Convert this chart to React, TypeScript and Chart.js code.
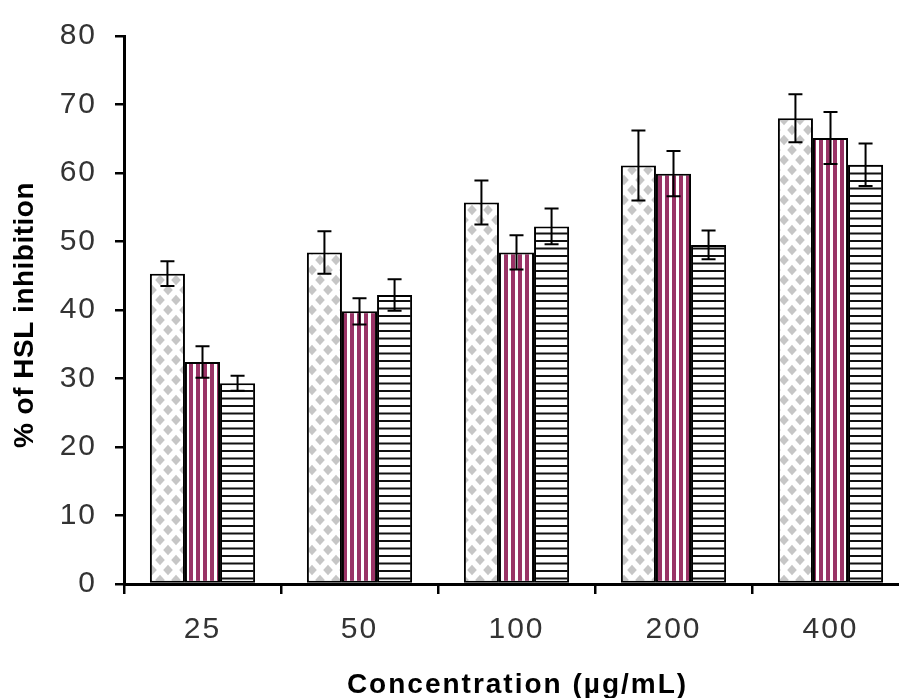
import { useEffect, useRef } from 'react';
import { Chart, registerables } from 'chart.js';

Chart.register(...registerables);

const categories = ['25', '50', '100', '200', '400'];
const seriesDiamond = [45.3, 48.4, 55.7, 61.1, 68.0];
const errDiamond = [1.8, 3.1, 3.2, 5.1, 3.5];
const seriesPurple = [32.4, 39.8, 48.4, 59.9, 65.1];
const errPurple = [2.3, 1.9, 2.5, 3.3, 3.8];
const seriesLines = [29.3, 42.2, 52.2, 49.5, 61.2];
const errLines = [1.1, 2.3, 2.6, 2.1, 3.1];
const yTicks = [0, 10, 20, 30, 40, 50, 60, 70, 80];

const xTitle = 'Concentration (µg/mL)';
const yTitle = '% of HSL inhibition';

const FONT = '"Liberation Sans", Arial, Helvetica, sans-serif';

function diamondPattern(ctx: CanvasRenderingContext2D): CanvasPattern {
  const w = 16;
  const h = 20;
  const c = document.createElement('canvas');
  c.width = w;
  c.height = h;
  const g = c.getContext('2d')!;
  g.fillStyle = '#ffffff';
  g.fillRect(0, 0, w, h);
  g.fillStyle = '#c6c6c6';
  const d = (cx: number, cy: number, rx: number, ry: number) => {
    g.beginPath();
    g.moveTo(cx, cy - ry);
    g.lineTo(cx + rx, cy);
    g.lineTo(cx, cy + ry);
    g.lineTo(cx - rx, cy);
    g.closePath();
    g.fill();
  };
  const rx = 4.8;
  const ry = 5.2;
  d(0, 0, rx, ry);
  d(w, 0, rx, ry);
  d(0, h, rx, ry);
  d(w, h, rx, ry);
  d(w / 2, h / 2, rx, ry);
  return ctx.createPattern(c, 'repeat')!;
}

function vStripePattern(ctx: CanvasRenderingContext2D): CanvasPattern {
  const w = 7;
  const c = document.createElement('canvas');
  c.width = w;
  c.height = 4;
  const g = c.getContext('2d')!;
  g.fillStyle = '#ffffff';
  g.fillRect(0, 0, w, 4);
  g.fillStyle = '#993366';
  g.fillRect(0, 0, 4, 4);
  return ctx.createPattern(c, 'repeat')!;
}

function hLinePattern(ctx: CanvasRenderingContext2D): CanvasPattern {
  const h = 15;
  const c = document.createElement('canvas');
  c.width = 4;
  c.height = h;
  const g = c.getContext('2d')!;
  g.fillStyle = '#ffffff';
  g.fillRect(0, 0, 4, h);
  g.fillStyle = '#111111';
  g.fillRect(0, 0, 4, 2);
  g.fillRect(0, 7.5, 4, 2);
  return ctx.createPattern(c, 'repeat')!;
}

const errorSets = [errDiamond, errPurple, errLines];

const errorBarsPlugin = {
  id: 'errorBars',
  afterDatasetsDraw(chart: any) {
    const ctx: CanvasRenderingContext2D = chart.ctx;
    const y = chart.scales.y;
    ctx.save();
    ctx.strokeStyle = '#000';
    ctx.lineWidth = 2;
    chart.data.datasets.forEach((ds: any, i: number) => {
      const meta = chart.getDatasetMeta(i);
      const errs = errorSets[i];
      meta.data.forEach((bar: any, j: number) => {
        const v = ds.data[j];
        const e = errs[j];
        const x = bar.x;
        const top = y.getPixelForValue(v + e);
        const bot = y.getPixelForValue(v - e);
        const cap = 7;
        ctx.beginPath();
        ctx.moveTo(x, top);
        ctx.lineTo(x, bot);
        ctx.moveTo(x - cap, top);
        ctx.lineTo(x + cap, top);
        ctx.moveTo(x - cap, bot);
        ctx.lineTo(x + cap, bot);
        ctx.stroke();
      });
    });
    ctx.restore();
  },
};

const spacingPlugin = {
  id: 'spacing',
  beforeDraw(chart: any) {
    (chart.ctx as any).letterSpacing = '2px';
  },
};

const axisTitlesPlugin = {
  id: 'axisTitles',
  afterDraw(chart: any) {
    const ctx: CanvasRenderingContext2D = chart.ctx;
    const a = chart.chartArea;
    ctx.save();
    ctx.fillStyle = '#000';
    ctx.textAlign = 'center';
    ctx.textBaseline = 'alphabetic';
    ctx.font = `bold 28px ${FONT}`;
    (ctx as any).letterSpacing = '2px';
    ctx.fillText(xTitle, (a.left + a.right) / 2 + 1, 693);
    (ctx as any).letterSpacing = '0.5px';
    ctx.translate(33, (a.top + a.bottom) / 2 + 5);
    ctx.rotate(-Math.PI / 2);
    ctx.fillText(yTitle, 0, 0);
    ctx.restore();
  },
};

export default function App() {
  const ref = useRef<HTMLCanvasElement | null>(null);

  useEffect(() => {
    const canvas = ref.current;
    if (!canvas) return;
    const ctx = canvas.getContext('2d')!;
    const tickFont = { family: FONT, size: 30, weight: 'normal' as const };
    const chart = new Chart(canvas, {
      type: 'bar',
      data: {
        labels: categories,
        datasets: [
          {
            label: 'A',
            data: seriesDiamond,
            backgroundColor: diamondPattern(ctx),
            borderColor: '#000',
            borderWidth: 2,
            borderSkipped: false,
          },
          {
            label: 'B',
            data: seriesPurple,
            backgroundColor: vStripePattern(ctx),
            borderColor: '#000',
            borderWidth: 2,
            borderSkipped: false,
          },
          {
            label: 'C',
            data: seriesLines,
            backgroundColor: hLinePattern(ctx),
            borderColor: '#000',
            borderWidth: 2,
            borderSkipped: false,
          },
        ],
      },
      options: {
        animation: false,
        responsive: true,
        maintainAspectRatio: false,
        devicePixelRatio: 1,
        layout: { padding: { top: 26, right: 13, left: 0, bottom: 0 } },
        datasets: { bar: { categoryPercentage: 0.67, barPercentage: 1.0 } },
        plugins: {
          legend: { display: false },
          tooltip: { enabled: false },
          title: { display: false },
        },
        scales: {
          x: {
            offset: true,
            grid: {
              display: true,
              drawOnChartArea: false,
              offset: true,
              tickLength: 10,
              lineWidth: 2.5,
              color: '#000',
            },
            border: { display: true, color: '#000', width: 3 },
            ticks: { font: tickFont, color: '#333', padding: 18, maxRotation: 0 },
            afterFit: (s: any) => {
              s.height = 114;
            },
          },
          y: {
            min: 0,
            max: 80,
            afterBuildTicks: (s: any) => {
              s.ticks = yTicks.map((v) => ({ value: v }));
            },
            ticks: { font: tickFont, color: '#333', padding: 18 },
            grid: {
              display: true,
              drawOnChartArea: false,
              tickLength: 9,
              lineWidth: 2.5,
              color: '#000',
            },
            border: { display: true, color: '#000', width: 3 },
            afterFit: (s: any) => {
              s.width = 124;
            },
          },
        },
      },
      plugins: [spacingPlugin, errorBarsPlugin, axisTitlesPlugin],
    });
    return () => chart.destroy();
  }, []);

  return (
    <div
      style={{
        position: 'fixed',
        left: 0,
        top: 0,
        width: 899,
        height: 698,
        overflow: 'hidden',
        background: '#fff',
      }}
    >
      <div style={{ position: 'relative', width: 922, height: 698 }}>
        <canvas ref={ref} />
      </div>
    </div>
  );
}
